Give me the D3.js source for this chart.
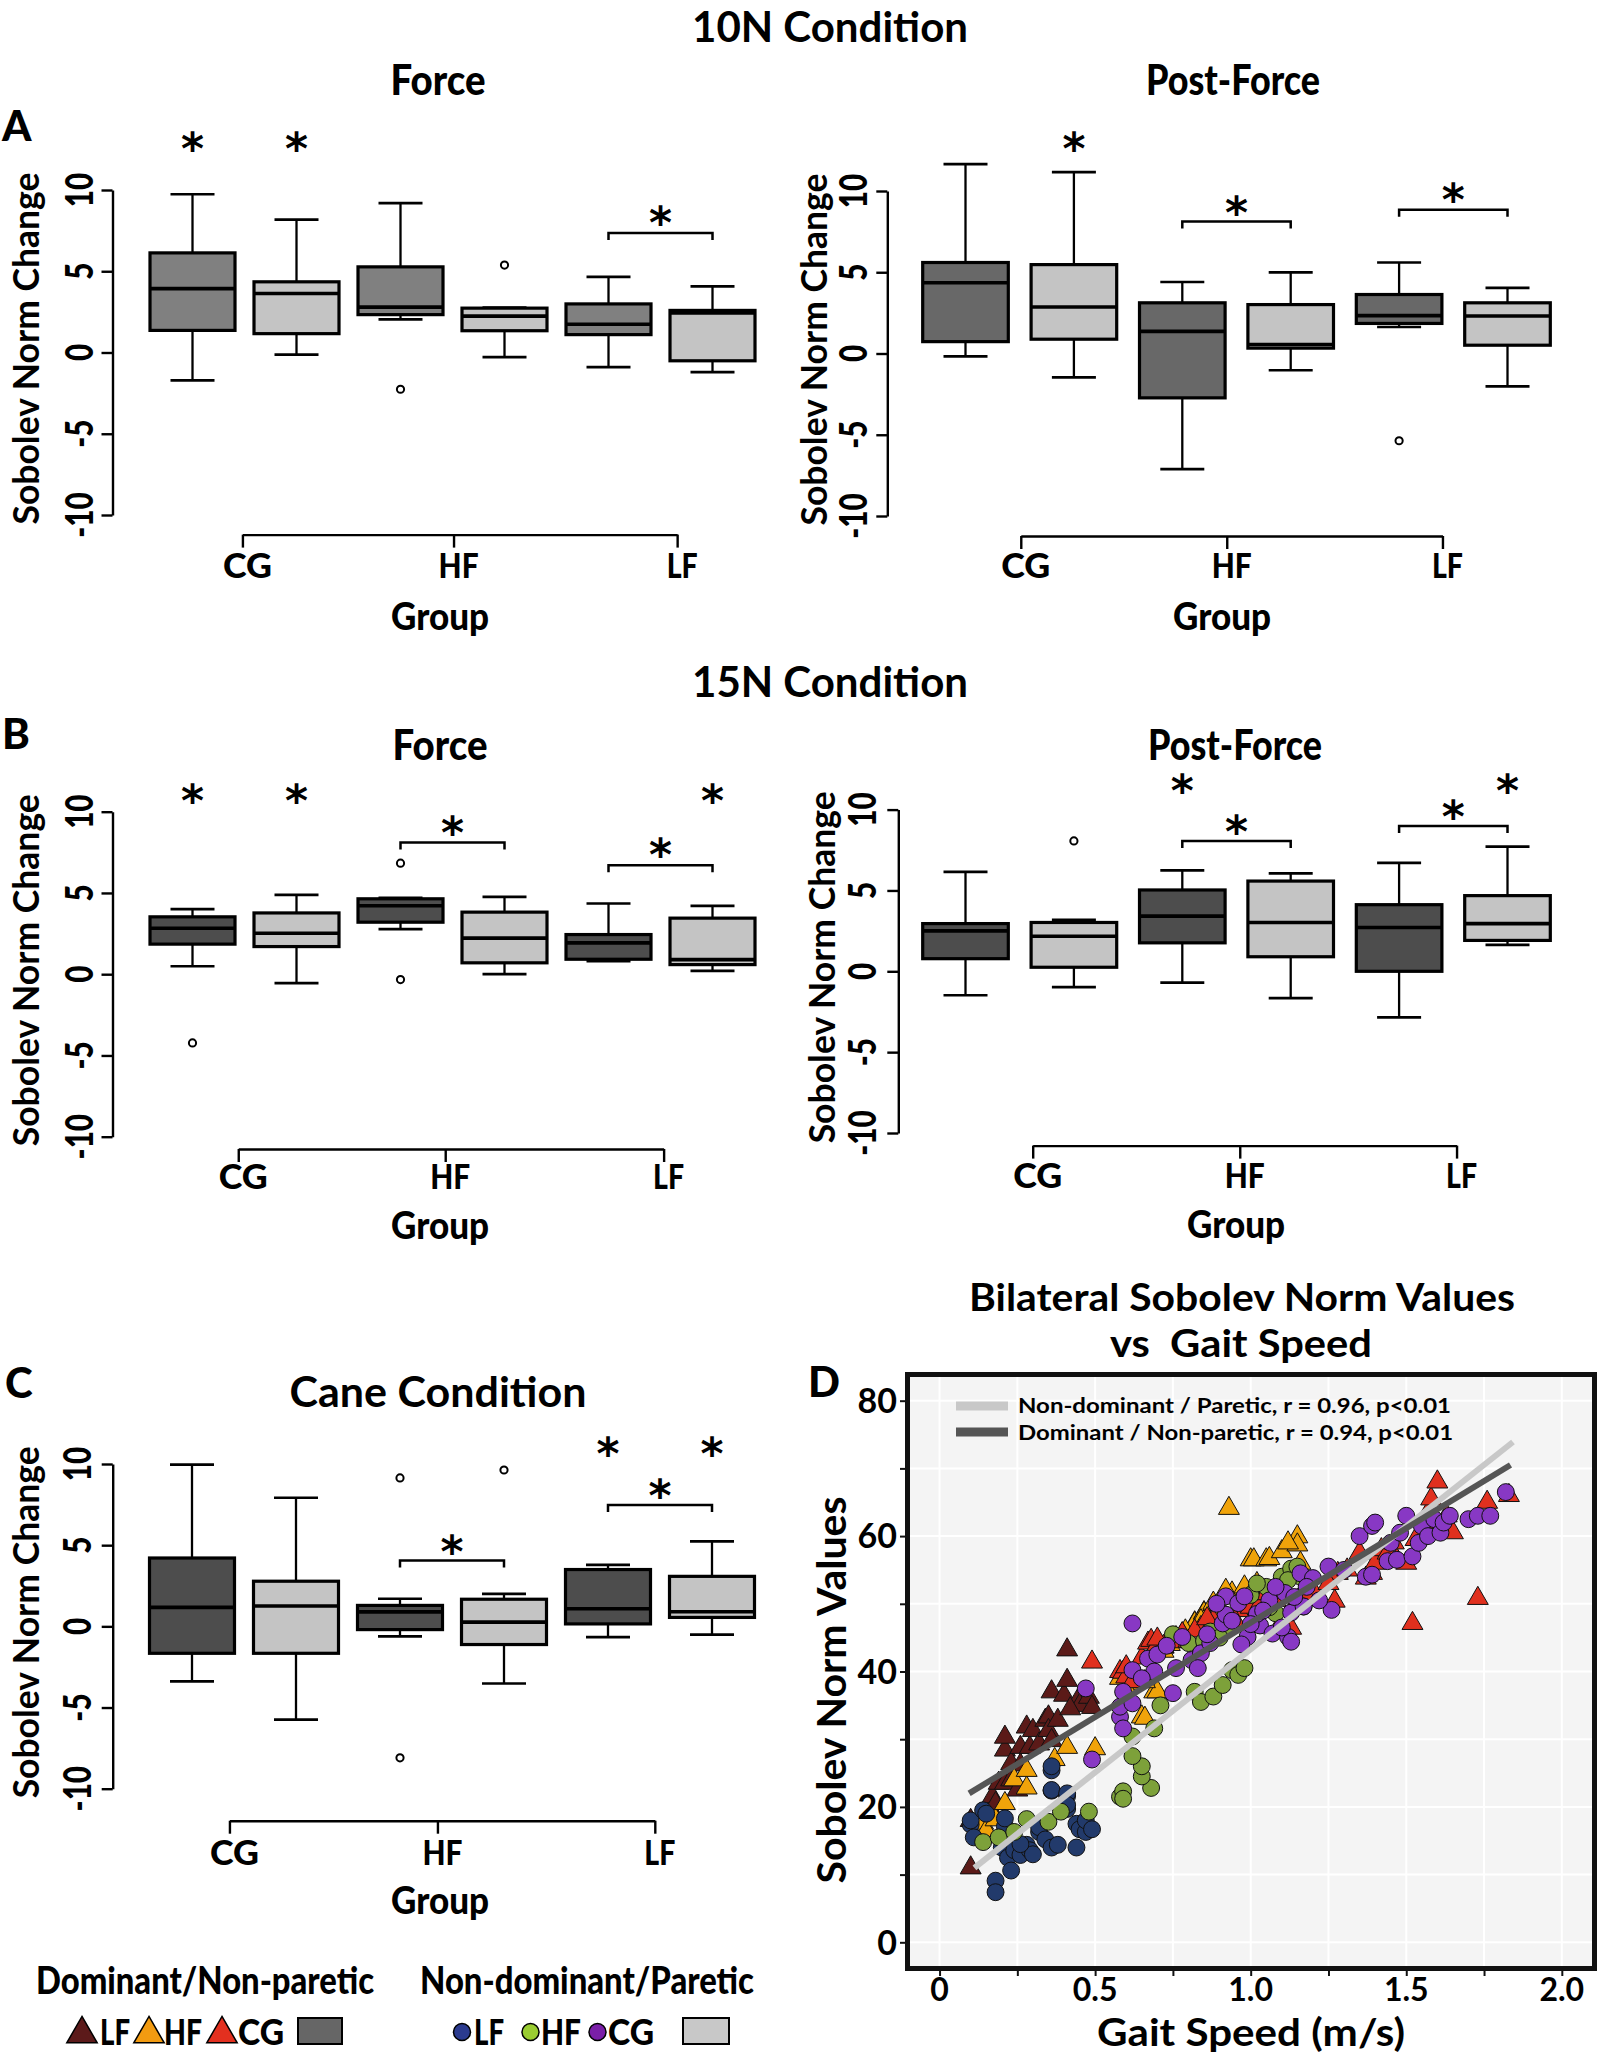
<!DOCTYPE html>
<html><head><meta charset="utf-8">
<script src="https://cdn.jsdelivr.net/npm/d3@7"></script>
<style>body{margin:0;background:#fff} svg{display:block}</style>
</head><body>
<svg id="c" width="1600" height="2060"></svg>
<script>
// ---------------- DATA ----------------
const groupLabels = ["CG", "HF", "LF"];
const yTicks = [-10, -5, 0, 5, 10];
// box order: CG dom, CG non-dom, HF dom, HF non-dom, LF dom, LF non-dom
// each box: [lowerWhisker, Q1, median, Q3, upperWhisker]
const force10 = [[-1.71,1.36,3.93,6.13,9.74],[-0.13,1.16,3.63,4.35,8.18],[2.04,2.33,2.79,5.27,9.19],[-0.29,1.34,2.24,2.73,2.77],[-0.90,1.10,1.74,2.99,4.66],[-1.21,-0.51,2.44,2.59,4.07]];
const force10Outliers = [[2,-2.26],[3,5.38]];
const force10Stars = [[0,12.9],[1,12.9]];
const force10Brackets = [[4,5,7.36,8.35]];

const post10 = [[-0.18,0.73,4.35,5.60,11.65],[-1.47,0.88,2.86,5.47,11.16],[-7.12,-2.73,1.36,3.12,4.40],[-1.03,0.33,0.55,3.01,4.99],[1.63,1.85,2.33,3.63,5.60],[-2.02,0.51,2.31,3.12,4.04]];
const post10Outliers = [[4,-5.37]];
const post10Stars = [[1,12.95]];
const post10Brackets = [[2,3,8.12,9.0],[4,5,8.84,9.81]];

const force15 = [[0.49,1.85,2.83,3.53,4.0],[-0.55,1.70,2.52,3.77,4.88],[2.77,3.2,4.21,4.64,4.70],[0,0.70,2.22,3.82,4.76],[0.80,0.92,1.93,2.44,4.35],[0.21,0.59,0.90,3.45,4.21]];
const force15Outliers = [[0,-4.23],[2,6.83],[2,-0.33]];
const force15Stars = [[0,11.0],[1,11.0],[5,11.0]];
const force15Brackets = [[2,3,8.1,9.07],[4,5,6.71,7.69]];

const post15 = [[-1.48,0.78,2.50,2.95,6.15],[-0.98,0.25,2.17,3.02,3.18],[-0.70,1.76,3.41,5.03,6.24],[-1.66,0.90,3.02,5.58,6.05],[-2.85,0,2.71,4.12,6.71],[1.64,1.91,2.95,4.68,7.71]];
const post15Outliers = [[1,8.06]];
const post15Stars = [[2,11.55],[5,11.55]];
const post15Brackets = [[2,3,8.06,8.98],[4,5,8.98,9.9]];

const cane = [[-3.39,-1.66,1.17,4.21,9.96],[-5.75,-1.66,1.25,2.78,7.92],[-0.62,-0.20,0.89,1.29,1.70],[-3.52,-1.12,0.26,1.67,2.0],[-0.66,0.15,1.08,3.50,3.79],[-0.51,0.55,0.90,3.08,5.24]];
const caneOutliers = [[2,9.14],[2,-8.1],[3,9.63]];
const caneStars = [[4,11.0],[5,11.0]];
const caneBrackets = [[2,3,4.05,4.95],[4,5,7.47,8.37]];

// Panel D: [gait speed (m/s), Sobolev norm]
const domLF = [[0.10,11.0],[0.10,18.0],[0.16,20.0],[0.17,21.5],[0.18,20.5],[0.19,23.5],[0.21,23.5],[0.23,24.0],[0.21,28.4],[0.21,30.3],[0.23,26.4],[0.26,26.2],[0.26,28.8],[0.28,31.8],[0.29,28.8],[0.30,31.3],[0.32,29.3],[0.34,32.8],[0.35,33.3],[0.35,31.3],[0.36,29.8],[0.38,32.8],[0.36,37.0],[0.40,36.5],[0.41,38.7],[0.41,43.2],[0.45,36.2],[0.45,35.0],[0.48,36.2],[0.49,34.7],[0.42,34.5],[0.25,22.5]];
const domHF = [[0.14,17.6],[0.15,16.5],[0.18,18.1],[0.21,20.5],[0.24,24.0],[0.28,22.8],[0.28,25.4],[0.37,27.0],[0.41,28.8],[0.50,28.6],[0.58,39.0],[0.62,38.2],[0.63,38.6],[0.65,33.3],[0.66,33.1],[0.69,37.0],[0.70,37.0],[0.72,43.0],[0.76,45.0],[0.82,47.2],[0.82,47.1],[0.85,48.7],[0.85,48.6],[0.88,49.9],[0.88,50.1],[0.93,64.1],[0.94,51.6],[0.97,49.1],[1.00,56.5],[1.01,56.5],[1.05,56.5],[1.06,56.7],[1.10,57.7],[1.15,59.9],[1.15,58.7],[1.16,56.0],[1.12,59.0],[0.79,46.0],[0.74,44.0],[0.78,45.5],[0.84,47.5],[0.90,48.5],[0.92,52.0],[0.98,52.5],[1.02,53.0],[0.60,37.5],[0.66,38.5]];
const domCG = [[0.49,41.4],[0.58,40.0],[0.59,39.9],[0.60,39.2],[0.60,40.7],[0.65,42.0],[0.67,44.2],[0.68,44.6],[0.69,43.2],[0.72,43.6],[0.72,43.7],[0.75,44.4],[0.78,45.6],[0.80,44.5],[0.84,46.5],[0.88,47.5],[0.92,48.0],[0.96,49.0],[1.00,49.5],[1.03,50.0],[1.09,46.6],[1.13,46.4],[1.15,50.5],[1.20,52.0],[1.27,50.4],[1.28,54.5],[1.31,55.0],[1.37,53.8],[1.39,54.5],[1.40,56.0],[1.42,58.0],[1.44,57.5],[1.47,56.5],[1.50,56.0],[1.52,47.1],[1.55,60.0],[1.57,63.5],[1.58,65.5],[1.60,68.0],[1.62,61.0],[1.63,63.0],[1.65,60.5],[1.73,50.8],[1.76,65.0],[1.83,66.0],[1.46,59.0],[1.53,59.5],[1.59,62.0],[1.35,57.5],[0.62,38.5],[0.70,44.8],[0.82,46.0],[0.86,47.8],[0.95,47.5],[1.05,51.5],[1.08,50.5],[1.10,52.0],[1.25,53.0],[1.18,51.0]];
const nonLF = [[0.10,17.4],[0.10,18.0],[0.11,15.5],[0.14,19.5],[0.15,19.0],[0.18,9.1],[0.18,7.4],[0.20,14.0],[0.21,17.1],[0.21,18.3],[0.22,12.5],[0.23,10.6],[0.24,13.6],[0.26,12.9],[0.28,14.4],[0.29,13.6],[0.32,16.3],[0.32,17.0],[0.34,15.2],[0.36,14.0],[0.36,25.4],[0.36,26.0],[0.36,22.4],[0.36,22.5],[0.38,14.4],[0.41,19.7],[0.41,21.6],[0.41,22.0],[0.41,20.3],[0.44,14.0],[0.44,17.5],[0.45,16.7],[0.47,16.3],[0.47,18.0],[0.49,16.7],[0.30,13.0],[0.26,14.5]];
const nonHF = [[0.14,14.8],[0.19,15.5],[0.24,16.3],[0.28,18.2],[0.35,17.8],[0.39,19.3],[0.48,19.3],[0.58,21.5],[0.59,22.3],[0.59,21.2],[0.68,22.8],[0.65,24.5],[0.65,26.0],[0.62,27.5],[0.62,30.4],[0.69,31.6],[0.71,35.0],[0.82,37.0],[0.84,35.5],[0.88,36.3],[0.91,38.0],[0.94,40.2],[0.96,39.5],[0.98,40.5],[0.80,44.2],[0.87,45.9],[0.93,46.4],[1.00,51.3],[1.08,48.6],[1.10,54.0],[1.13,55.2],[1.16,54.0],[1.17,49.6],[1.05,52.5],[0.90,45.0],[1.02,53.0],[1.12,53.5],[1.15,55.5],[0.85,44.5],[0.75,45.5],[1.06,49.5]];
const nonCG = [[0.47,37.5],[0.49,27.0],[0.58,33.3],[0.58,34.8],[0.59,31.6],[0.59,37.0],[0.62,35.3],[0.62,40.2],[0.62,47.1],[0.67,41.9],[0.69,40.0],[0.75,36.8],[0.76,40.5],[0.78,45.1],[0.81,41.7],[0.84,42.7],[0.87,44.2],[0.91,47.1],[0.92,48.4],[0.92,51.1],[0.96,50.1],[0.98,51.1],[0.99,45.1],[1.03,46.8],[1.07,45.6],[1.11,51.6],[1.12,45.1],[1.13,44.4],[1.13,48.7],[1.16,54.5],[1.17,49.6],[1.20,53.8],[1.25,55.5],[1.26,49.1],[1.30,55.0],[1.35,60.0],[1.37,54.0],[1.39,54.3],[1.39,61.5],[1.40,62.0],[1.44,56.3],[1.45,59.0],[1.47,56.5],[1.48,60.5],[1.50,63.0],[1.52,57.0],[1.54,59.0],[1.55,61.5],[1.57,60.0],[1.59,62.5],[1.61,60.5],[1.62,62.0],[1.64,63.0],[1.70,62.5],[1.73,63.0],[1.77,63.0],[1.82,66.5],[1.02,48.5],[1.06,50.5],[0.70,42.5],[0.73,43.8],[0.86,45.5],[0.89,50.0],[0.94,47.5],[1.00,47.0],[1.04,49.0],[1.08,52.5],[1.10,46.5],[1.14,51.0],[1.18,52.5],[1.22,50.5],[0.65,39.0],[0.83,40.5],[0.97,44.0]];
const fitNonDominant = [[0.112,11.0],[1.843,73.9]];
const fitDominant = [[0.095,22.0],[1.835,70.5]];
const scatterYTicks = [0,10,20,30,40,50,60,70,80];
const scatterYLabels = [0,20,40,60,80];
const scatterXTicks = [0,0.25,0.5,0.75,1.0,1.25,1.5,1.75,2.0];
const scatterXLabels = ["0","0.5","1.0","1.5","2.0"];
const fitLegend = ["Non-dominant / Paretic, r = 0.96, p<0.01","Dominant / Non-paretic, r = 0.94, p<0.01"];

// ---------------- DRAW ----------------
const svg = d3.select("#c");
const FONT = "Lato,'Open Sans',sans-serif";
const groupLabelW = {CG: 49, HF: 40, LF: 31};

function text(g, s, x, y, size, o = {}) {
  const t = g.append("text").attr("x", x).attr("y", y)
    .attr("font-family", FONT)
    .attr("font-size", size)
    .attr("font-weight", o.weight || 700)
    .attr("text-anchor", o.anchor || "middle")
    .attr("fill", o.fill || "#000")
    .style("white-space", "pre")
    .text(s);
  if (o.rotate) t.attr("transform", `rotate(-90,${x},${y})`);
  if (o.dy) t.attr("dy", o.dy);
  if (o.w) t.attr("textLength", o.w).attr("lengthAdjust", "spacingAndGlyphs");
  else if (o.k) {
    const nat = t.node().getComputedTextLength();
    t.attr("textLength", nat * o.k).attr("lengthAdjust", "spacingAndGlyphs");
  }
  return t;
}

function star(g, x, y) {
  g.append("text").attr("x", x).attr("y", y).attr("dy", 21)
    .attr("font-family", "'DejaVu Sans',sans-serif").attr("font-weight", 700)
    .attr("font-size", 44).attr("text-anchor", "middle").text("*");
}

function boxPanel(c) {
  const g = svg.append("g");
  const x = d3.scaleLinear().domain([0, 5]).range([c.box0, c.box0 + 5 * c.step]);
  const y = d3.scaleLinear().domain([-10, 10]).range([c.yBottom, c.yTop]);
  const ax = g.append("g").attr("transform", `translate(${c.axisX},0)`)
    .call(d3.axisLeft(y).tickValues(yTicks).tickSize(11).tickSizeOuter(0).tickFormat(""));
  ax.selectAll(".domain, .tick line").attr("stroke", "#000").attr("stroke-width", 2.4);
  yTicks.forEach(v => text(g, String(v), c.tickLabelX, y(v), 37, {rotate: true, dy: "0.36em", k: 0.8, weight: 900}));
  text(g, "Sobolev Norm Change", c.titleX, (c.yTop + c.yBottom) / 2 - 4, 37, {rotate: true, dy: "0.36em", w: 352});

  const bw = c.bw, cap = 44;
  c.data.forEach((d, i) => {
    const [lw, q1, md, q3, uw] = d;
    const cx = x(i);
    const fill = i % 2 === 0 ? c.dark : "#c4c4c4";
    g.append("line").attr("x1", cx).attr("x2", cx).attr("y1", y(q3)).attr("y2", y(uw)).attr("stroke", "#000").attr("stroke-width", 2.3);
    g.append("line").attr("x1", cx).attr("x2", cx).attr("y1", y(q1)).attr("y2", y(lw)).attr("stroke", "#000").attr("stroke-width", 2.3);
    g.append("line").attr("x1", cx - cap / 2).attr("x2", cx + cap / 2).attr("y1", y(uw)).attr("y2", y(uw)).attr("stroke", "#000").attr("stroke-width", 2.7);
    g.append("line").attr("x1", cx - cap / 2).attr("x2", cx + cap / 2).attr("y1", y(lw)).attr("y2", y(lw)).attr("stroke", "#000").attr("stroke-width", 2.7);
    g.append("rect").attr("x", cx - bw / 2).attr("y", y(q3)).attr("width", bw).attr("height", y(q1) - y(q3))
      .attr("fill", fill).attr("stroke", "#000").attr("stroke-width", 3.2);
    g.append("line").attr("x1", cx - bw / 2).attr("x2", cx + bw / 2).attr("y1", y(md)).attr("y2", y(md)).attr("stroke", "#000").attr("stroke-width", 3.6);
  });
  c.outliers.forEach(([i, v]) => g.append("circle").attr("cx", x(i)).attr("cy", y(v)).attr("r", 3.6)
    .attr("fill", "none").attr("stroke", "#000").attr("stroke-width", 2));
  c.stars.forEach(([i, v]) => star(g, x(i), y(v)));
  c.brackets.forEach(([a, b, v, sv]) => {
    const yy = y(v);
    g.append("path").attr("d", `M${x(a)},${yy + 7}L${x(a)},${yy}L${x(b)},${yy}L${x(b)},${yy + 7}`)
      .attr("fill", "none").attr("stroke", "#000").attr("stroke-width", 2.5);
    star(g, (x(a) + x(b)) / 2, y(sv));
  });
  const p = c.groupPos;
  const gs = d3.scaleLinear().domain([p[0], p[2]]).range([x(p[0]), x(p[2])]);
  const gax = g.append("g").attr("transform", `translate(0,${c.groupY})`)
    .call(d3.axisBottom(gs).tickValues(p).tickSize(13).tickSizeOuter(0).tickFormat(""));
  gax.selectAll(".domain, .tick line").attr("stroke", "#000").attr("stroke-width", 2.4);
  p.forEach((v, i) => text(g, groupLabels[i], gs(v) + 5, c.labelY, 35, {w: groupLabelW[groupLabels[i]], weight: 900}));
  text(g, "Group", c.groupLabelX, c.groupLabelY, 38, {w: 98, weight: 900});
}

boxPanel({data: force10, outliers: force10Outliers, stars: force10Stars, brackets: force10Brackets,
  axisX: 112.5, yBottom: 515, yTop: 190, box0: 192.5, step: 104, bw: 85, dark: "#808080",
  groupY: 534.6, groupPos: [0.48, 2.51, 4.66], labelY: 578, groupLabelX: 440, groupLabelY: 630, tickLabelX: 80, titleX: 26});
boxPanel({data: post10, outliers: post10Outliers, stars: post10Stars, brackets: post10Brackets,
  axisX: 887.3, yBottom: 516, yTop: 191, box0: 965.5, step: 108.4, bw: 85.6, dark: "#686868",
  groupY: 536, groupPos: [0.51, 2.41, 4.40], labelY: 578, groupLabelX: 1222, groupLabelY: 630, tickLabelX: 853.5, titleX: 814});
boxPanel({data: force15, outliers: force15Outliers, stars: force15Stars, brackets: force15Brackets,
  axisX: 112.5, yBottom: 1136.7, yTop: 811.7, box0: 192.5, step: 104, bw: 85, dark: "#4d4d4d",
  groupY: 1149, groupPos: [0.44, 2.43, 4.53], labelY: 1189, groupLabelX: 440, groupLabelY: 1239, tickLabelX: 80, titleX: 26});
boxPanel({data: post15, outliers: post15Outliers, stars: post15Stars, brackets: post15Brackets,
  axisX: 898.3, yBottom: 1133, yTop: 809.6, box0: 965.5, step: 108.4, bw: 85.6, dark: "#4d4d4d",
  groupY: 1145.6, groupPos: [0.62, 2.53, 4.53], labelY: 1188, groupLabelX: 1236, groupLabelY: 1238, tickLabelX: 863, titleX: 822});
boxPanel({data: cane, outliers: caneOutliers, stars: caneStars, brackets: caneBrackets,
  axisX: 112.7, yBottom: 1788.7, yTop: 1464, box0: 192, step: 104, bw: 85, dark: "#4d4d4d",
  groupY: 1820.7, groupPos: [0.36, 2.36, 4.45], labelY: 1865, groupLabelX: 440, groupLabelY: 1914, tickLabelX: 77.5, titleX: 26});

// titles
const T = svg.append("g");
text(T, "10N Condition", 830, 42, 42, {w: 276});
text(T, "Force", 438, 95, 42, {w: 95, weight: 900});
text(T, "Post-Force", 1233, 95, 42, {w: 174, weight: 900});
text(T, "A", 2, 141, 42, {weight: 900, anchor: "start"});
text(T, "15N Condition", 830, 697, 42, {w: 276});
text(T, "B", 2, 749, 42, {weight: 900, anchor: "start"});
text(T, "Force", 440, 760, 42, {w: 95, weight: 900});
text(T, "Post-Force", 1235, 760, 42, {w: 174, weight: 900});
text(T, "C", 5, 1398, 42, {weight: 900, anchor: "start"});
text(T, "Cane Condition", 438, 1407, 42, {w: 297});
text(T, "D", 808, 1397, 42, {weight: 900, anchor: "start"});
text(T, "Bilateral Sobolev Norm Values", 1242, 1311, 38, {w: 546});
text(T, "vs  Gait Speed", 1241, 1357, 38, {w: 262});

// ---------------- Panel D scatter ----------------
const D = svg.append("g");
const L = 910, R = 1592, TOP = 1377, BOT = 1966;
const sx = d3.scaleLinear().domain([-0.095, 2.097]).range([L, R]);
const sy = d3.scaleLinear().domain([-3.5, 83.5]).range([BOT, TOP]);
D.append("rect").attr("x", L).attr("y", TOP).attr("width", R - L).attr("height", BOT - TOP).attr("fill", "#f4f4f4");
scatterYTicks.forEach(v => D.append("line").attr("x1", L).attr("x2", R).attr("y1", sy(v)).attr("y2", sy(v)).attr("stroke", "#fff").attr("stroke-width", 2));
scatterXTicks.forEach(v => D.append("line").attr("y1", TOP).attr("y2", BOT).attr("x1", sx(v)).attr("x2", sx(v)).attr("stroke", "#fff").attr("stroke-width", 2));

const tri = d3.symbol().type(d3.symbolTriangle).size(190);
const circ = d3.symbol().type(d3.symbolCircle).size(225);
function pts(data, sym, color) {
  D.append("g").selectAll("path").data(data).join("path")
    .attr("d", sym).attr("transform", d => `translate(${sx(d[0])},${sy(d[1])})`)
    .attr("fill", color).attr("stroke", "#111").attr("stroke-width", 1);
}
pts(domLF, tri, "#5b1a18");
pts(domHF, tri, "#f0a30a");
pts(domCG, tri, "#e0301e");
pts(nonLF, circ, "#223a6b");
pts(nonHF, circ, "#7da13a");
pts(nonCG, circ, "#8838c4");

const ln = d3.line().x(d => sx(d[0])).y(d => sy(d[1]));
D.append("path").attr("d", ln(fitNonDominant)).attr("stroke", "#c8c8c8").attr("stroke-width", 6).attr("fill", "none");
D.append("path").attr("d", ln(fitDominant)).attr("stroke", "#555").attr("stroke-width", 6).attr("fill", "none");

D.append("line").attr("x1", 956).attr("x2", 1008).attr("y1", 1406).attr("y2", 1406).attr("stroke", "#c8c8c8").attr("stroke-width", 9);
D.append("line").attr("x1", 956).attr("x2", 1008).attr("y1", 1432).attr("y2", 1432).attr("stroke", "#555").attr("stroke-width", 9);
text(D, fitLegend[0], 1018, 1413, 20.5, {anchor: "start", w: 433});
text(D, fitLegend[1], 1018, 1440, 20.5, {anchor: "start", w: 435});

D.append("rect").attr("x", L - 2.5).attr("y", TOP - 2.5).attr("width", R - L + 5).attr("height", BOT - TOP + 5)
  .attr("fill", "none").attr("stroke", "#111").attr("stroke-width", 5);
const yax = D.append("g").attr("transform", `translate(${L - 5},0)`)
  .call(d3.axisLeft(sy).tickValues(scatterYTicks).tickSize(5).tickFormat(""));
yax.select(".domain").remove();
yax.selectAll(".tick line").attr("stroke", "#111").attr("stroke-width", 2);
const xax = D.append("g").attr("transform", `translate(0,${BOT + 5})`)
  .call(d3.axisBottom(sx).tickValues(scatterXTicks).tickSize(5).tickFormat(""));
xax.select(".domain").remove();
xax.selectAll(".tick line").attr("stroke", "#111").attr("stroke-width", 2);
scatterYLabels.forEach(v => text(D, String(v), 897, sy(v), 34, {anchor: "end", dy: "0.36em"}));
scatterXLabels.forEach((s, i) => text(D, s, sx(i * 0.5), 2001, 32));
text(D, "Gait Speed (m/s)", 1251, 2046, 38, {w: 308});
text(D, "Sobolev Norm Values", 832, 1690, 40, {rotate: true, dy: "0.36em", w: 387});

// ---------------- bottom legend ----------------
const LG = svg.append("g");
text(LG, "Dominant/Non-paretic", 36, 1994, 38, {anchor: "start", w: 338, weight: 900});
text(LG, "Non-dominant/Paretic", 420, 1994, 38, {anchor: "start", w: 334, weight: 900});
const legTri = [["LF", "#5c1a1a", 82, 100, 30], ["HF", "#f29b11", 149, 164, 38], ["CG", "#e3301f", 222, 238, 46]];
const bigTri = d3.symbol().type(d3.symbolTriangle).size(400);
legTri.forEach(([lab, col, cx, tx, w]) => {
  LG.append("path").attr("d", bigTri).attr("transform", `translate(${cx},2034)`).attr("fill", col).attr("stroke", "#000").attr("stroke-width", 1.5);
  text(LG, lab, tx, 2045, 36, {anchor: "start", w, weight: 900});
});
LG.append("rect").attr("x", 298).attr("y", 2018).attr("width", 44).attr("height", 26).attr("fill", "#666").attr("stroke", "#000").attr("stroke-width", 2);
const legCirc = [["LF", "#2b3b8f", 462, 474, 30], ["HF", "#9acd32", 530.5, 541, 40], ["CG", "#7a1fa8", 597.5, 608, 46]];
legCirc.forEach(([lab, col, cx, tx, w]) => {
  LG.append("circle").attr("cx", cx).attr("cy", 2032).attr("r", 8.5).attr("fill", col).attr("stroke", "#000").attr("stroke-width", 1.5);
  text(LG, lab, tx, 2045, 36, {anchor: "start", w, weight: 900});
});
LG.append("rect").attr("x", 683).attr("y", 2018).attr("width", 46).attr("height", 26).attr("fill", "#c8c8c8").attr("stroke", "#000").attr("stroke-width", 2);
</script>
</body></html>
